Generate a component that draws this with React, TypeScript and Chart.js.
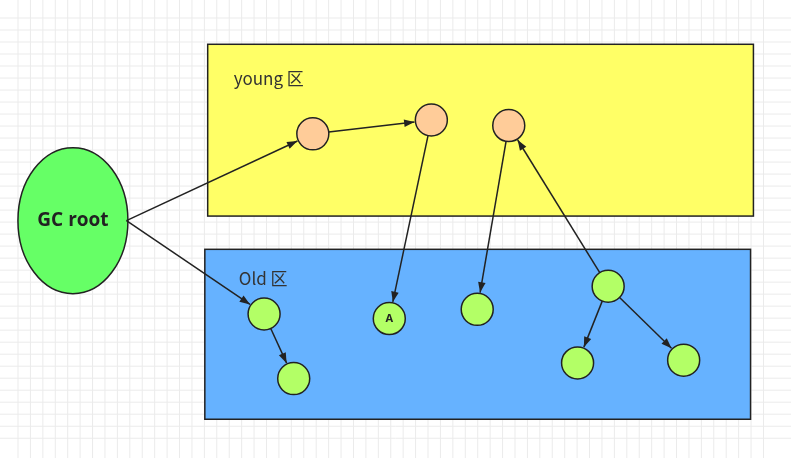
import React, { useEffect, useRef } from "react";
import { Chart, registerables } from "chart.js";
Chart.register(...registerables);

const nodeX = [309, 433, 514, 258, 289, 389, 481, 618, 586, 697];
const nodeY = [126, 111, 117, 321, 391, 326, 316, 291, 374, 371];
const nodeKind = ["young", "young", "young", "old", "old", "old", "old", "old", "old", "old"];
const nodeLabel = ["", "", "", "", "", "A", "", "", "", ""];
const rootPos = [58, 220];
const edgesFrom = [-1, -1, 0, 1, 2, 7, 7, 7, 3];
const edgesTo = [0, 3, 1, 5, 6, 2, 8, 9, 4];
const regionNames = ["young 区", "Old 区"];
const regionBoxes = [[199, 29, 770, 215], [196, 251, 767, 435]];

export default function App() {
  const ref = useRef<HTMLCanvasElement>(null);
  useEffect(() => {
    const px = (c: any, x: number) => c.scales.x.getPixelForValue(x);
    const py = (c: any, y: number) => c.scales.y.getPixelForValue(y);
    const plugin = {
      id: "diagram",
      beforeDatasetsDraw(c: any) {
        const ctx = c.ctx;
        ctx.save();
        ctx.fillStyle = "#fff";
        ctx.fillRect(0, 0, 791, 458);
        ctx.strokeStyle = "#ebebeb";
        ctx.lineWidth = 1;
        for (let g = 0; g <= 791; g += 13) { ctx.beginPath(); ctx.moveTo(px(c, g) + 0.5, 0); ctx.lineTo(px(c, g) + 0.5, 458); ctx.stroke(); }
        for (let g = 0; g <= 458; g += 13) { ctx.beginPath(); ctx.moveTo(0, py(c, g) + 0.5); ctx.lineTo(791, py(c, g) + 0.5); ctx.stroke(); }
        const fills = ["#ffff66", "#66b2ff"];
        regionBoxes.forEach((b, i) => {
          const x0 = px(c, b[0]), y0 = py(c, b[1]), x1 = px(c, b[2]), y1 = py(c, b[3]);
          ctx.fillStyle = fills[i];
          ctx.fillRect(x0, y0, x1 - x0, y1 - y0);
          ctx.strokeStyle = "#222";
          ctx.lineWidth = 1.5;
          ctx.strokeRect(x0, y0, x1 - x0, y1 - y0);
          ctx.fillStyle = "#333";
          ctx.font = "17px 'Noto Sans CJK SC', 'Noto Sans'";
          ctx.textBaseline = "middle";
          ctx.fillText(regionNames[i], x0 + (i ? 34 : 26), y0 + (i ? 29 : 34));
        });
        ctx.beginPath();
        ctx.ellipse(px(c, rootPos[0]), py(c, rootPos[1]), 55, 73, 0, 0, Math.PI * 2);
        ctx.fillStyle = "#66ff66";
        ctx.fill();
        ctx.strokeStyle = "#222";
        ctx.lineWidth = 1.5;
        ctx.stroke();
        ctx.fillStyle = "#222";
        ctx.font = "bold 19px 'Open Sans'";
        ctx.textAlign = "center";
        ctx.fillText("GC root", px(c, rootPos[0]), py(c, rootPos[1]));
        edgesFrom.forEach((f, i) => {
          const t = edgesTo[i];
          let sx: number, sy: number, sr: number;
          if (f < 0) { sx = px(c, 114); sy = py(c, 220); sr = 0; }
          else { sx = px(c, nodeX[f]); sy = py(c, nodeY[f]); sr = 16; }
          const tx = px(c, nodeX[t]), ty = py(c, nodeY[t]);
          const ang = Math.atan2(ty - sy, tx - sx);
          const ax = sx + Math.cos(ang) * sr, ay = sy + Math.sin(ang) * sr;
          const bx = tx - Math.cos(ang) * 17, by = ty - Math.sin(ang) * 17;
          ctx.strokeStyle = "#222";
          ctx.lineWidth = 1.5;
          ctx.beginPath(); ctx.moveTo(ax, ay); ctx.lineTo(bx, by); ctx.stroke();
          ctx.beginPath();
          ctx.moveTo(bx, by);
          ctx.lineTo(bx - Math.cos(ang - 0.35) * 11, by - Math.sin(ang - 0.35) * 11);
          ctx.lineTo(bx - Math.cos(ang + 0.35) * 11, by - Math.sin(ang + 0.35) * 11);
          ctx.closePath();
          ctx.fillStyle = "#222"; ctx.fill();
        });
        ctx.restore();
      },
      afterDatasetsDraw(c: any) {
        const ctx = c.ctx;
        ctx.save();
        ctx.font = "bold 11px 'Open Sans'";
        ctx.fillStyle = "#222";
        ctx.textAlign = "center";
        ctx.textBaseline = "middle";
        nodeLabel.forEach((l, i) => { if (l) ctx.fillText(l, px(c, nodeX[i]), py(c, nodeY[i])); });
        ctx.restore();
      },
    };
    const chart = new Chart(ref.current!, {
      type: "bubble",
      data: {
        datasets: [{
          data: nodeX.map((x, i) => ({ x, y: nodeY[i], r: 16 })),
          backgroundColor: nodeKind.map(k => k === "young" ? "#ffcc99" : "#b3ff66"),
          borderColor: "#222",
          borderWidth: 1.5,
        }],
      },
      options: {
        animation: false,
        responsive: false,
        layout: { padding: 0 },
        plugins: { legend: { display: false }, tooltip: { enabled: false } },
        scales: {
          x: { type: "linear", min: 0, max: 791, display: false },
          y: { type: "linear", min: 0, max: 458, reverse: true, display: false },
        },
      },
      plugins: [plugin],
    });
    return () => chart.destroy();
  }, []);
  return (
    <div style={{ position: "fixed", left: 0, top: 0, background: "#fff" }}>
      <canvas ref={ref} width={791} height={458} style={{ display: "block" }} />
    </div>
  );
}
